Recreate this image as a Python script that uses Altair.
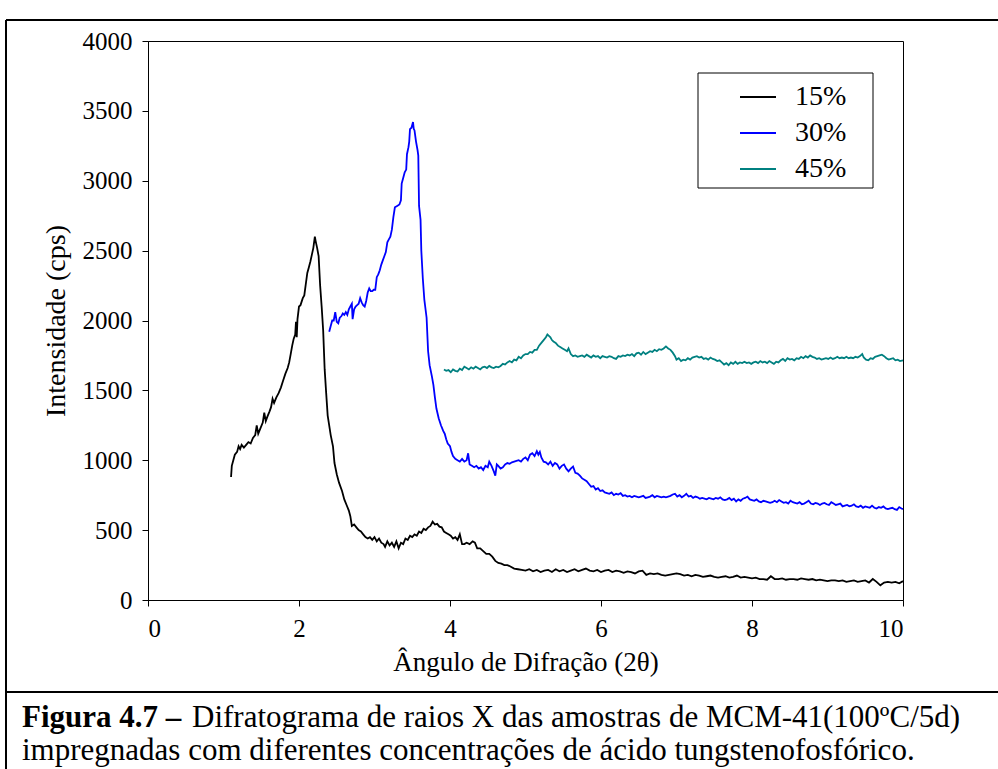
import altair as alt
import pandas as pd

# ---- data ----
series_names = ["15%", "30%", "45%"]
series_colors = ["#000000", "#0000ff", "#008080"]

x15 = [1.10, 1.11, 1.13, 1.15, 1.18, 1.20, 1.22, 1.24, 1.27, 1.30, 1.33, 1.36, 1.39, 1.42, 1.44, 1.46,
       1.49, 1.52, 1.54, 1.56, 1.58, 1.61, 1.63, 1.65, 1.67, 1.70, 1.73, 1.76, 1.79, 1.82, 1.85, 1.87,
       1.89, 1.91, 1.93, 1.95, 1.96, 1.97, 1.98, 2.00, 2.02, 2.05, 2.07, 2.09, 2.11, 2.13, 2.15, 2.17,
       2.19, 2.21, 2.22, 2.24, 2.26, 2.28, 2.30, 2.32, 2.34, 2.36, 2.38, 2.40, 2.42, 2.45, 2.47, 2.50,
       2.53, 2.57, 2.60, 2.63, 2.66, 2.68, 2.70, 2.73, 2.76, 2.79, 2.82, 2.85, 2.88, 2.91, 2.94, 2.97,
       3.00, 3.03, 3.06, 3.09, 3.12, 3.14, 3.17, 3.20, 3.23, 3.26, 3.29, 3.32, 3.35, 3.38, 3.41, 3.44,
       3.47, 3.50, 3.53, 3.56, 3.59, 3.62, 3.65, 3.68, 3.71, 3.74, 3.77, 3.80, 3.83, 3.86, 3.89, 3.92,
       3.95, 3.98, 4.01, 4.04, 4.07, 4.10, 4.13, 4.16, 4.19, 4.22, 4.26, 4.30, 4.33, 4.36, 4.40, 4.44,
       4.48, 4.52, 4.56, 4.60, 4.64, 4.68, 4.72, 4.76, 4.80, 4.85, 4.90, 4.95, 5.00, 5.05, 5.10, 5.15,
       5.20, 5.25, 5.30, 5.35, 5.40, 5.45, 5.50, 5.55, 5.60, 5.65, 5.70, 5.75, 5.80, 5.85, 5.90, 5.95,
       6.00, 6.05, 6.10, 6.15, 6.20, 6.25, 6.30, 6.35, 6.40, 6.45, 6.50, 6.55, 6.60, 6.65, 6.70, 6.75,
       6.80, 6.85, 6.90, 6.95, 7.00, 7.05, 7.10, 7.15, 7.20, 7.25, 7.30, 7.35, 7.40, 7.45, 7.50, 7.55,
       7.60, 7.65, 7.70, 7.75, 7.80, 7.85, 7.90, 7.95, 8.00, 8.05, 8.10, 8.15, 8.20, 8.25, 8.30, 8.35,
       8.40, 8.45, 8.50, 8.55, 8.60, 8.65, 8.70, 8.75, 8.80, 8.85, 8.90, 8.95, 9.00, 9.05, 9.10, 9.15,
       9.20, 9.25, 9.30, 9.35, 9.40, 9.45, 9.50, 9.55, 9.60, 9.65, 9.70, 9.75, 9.80, 9.85, 9.90, 9.95,
       10.00]
y15 = [880, 960, 1000, 1040, 1060, 1100, 1080, 1110, 1090, 1110, 1130, 1120, 1160, 1180, 1250, 1190,
       1230, 1270, 1340, 1280, 1310, 1350, 1380, 1440, 1410, 1450, 1480, 1520, 1570, 1620, 1660, 1700,
       1760, 1820, 1870, 1900, 1990, 1880, 2010, 2100, 2110, 2160, 2180, 2260, 2340, 2380, 2420, 2470,
       2520, 2600, 2570, 2520, 2460, 2250, 2100, 1930, 1650, 1480, 1320, 1250, 1180, 1100, 980, 900,
       840, 780, 720, 680, 640, 600, 530, 540, 520, 500, 490, 470, 450, 440, 450, 430,
       450, 420, 440, 410, 400, 380, 420, 390, 410, 380, 420, 370, 410, 400, 440, 430,
       460, 450, 470, 460, 490, 480, 510, 500, 520, 530, 560, 540, 545, 525, 520, 490,
       480, 470, 460, 440, 450, 430, 470, 400, 400, 410, 400, 420, 410, 370, 370, 350,
       330, 330, 310, 280, 265, 260, 250, 250, 240, 225, 220, 215, 210, 220, 205, 215,
       200, 210, 215, 200, 220, 205, 215, 200, 210, 220, 205, 215, 225, 210, 205, 215,
       200, 210, 215, 200, 210, 205, 195, 205, 200, 190, 205, 210, 180, 190, 185, 190,
       180, 175, 180, 185, 190, 185, 175, 180, 170, 180, 175, 165, 170, 175, 165, 160,
       165, 170, 160, 165, 175, 160, 165, 160, 155, 160, 150, 150, 145, 170, 150, 150,
       155, 145, 150, 150, 145, 155, 150, 145, 150, 140, 145, 140, 135, 140, 140, 135,
       140, 130, 135, 140, 130, 135, 140, 125, 150, 130, 105, 125, 130, 125, 130, 120,
       135]

x30 = [2.40, 2.42, 2.44, 2.46, 2.48, 2.50, 2.52, 2.54, 2.56, 2.58, 2.60, 2.62, 2.64, 2.66, 2.68, 2.70,
       2.71, 2.73, 2.75, 2.77, 2.79, 2.81, 2.83, 2.85, 2.87, 2.89, 2.91, 2.93, 2.95, 2.97, 2.99, 3.01,
       3.03, 3.05, 3.07, 3.09, 3.11, 3.13, 3.15, 3.17, 3.19, 3.21, 3.23, 3.25, 3.27, 3.30, 3.33, 3.35,
       3.36, 3.38, 3.40, 3.42, 3.43, 3.45, 3.46, 3.47, 3.49, 3.51, 3.52, 3.53, 3.55, 3.57, 3.58, 3.59,
       3.61, 3.62, 3.64, 3.66, 3.69, 3.71, 3.73, 3.76, 3.78, 3.80, 3.82, 3.85, 3.88, 3.91, 3.93, 3.95,
       3.97, 4.00, 4.02, 4.04, 4.07, 4.10, 4.13, 4.16, 4.19, 4.22, 4.24, 4.26, 4.29, 4.32, 4.35, 4.38,
       4.41, 4.44, 4.47, 4.50, 4.52, 4.55, 4.58, 4.60, 4.62, 4.64, 4.67, 4.70, 4.73, 4.76, 4.79, 4.82,
       4.85, 4.88, 4.91, 4.94, 4.97, 5.00, 5.03, 5.06, 5.09, 5.12, 5.15, 5.17, 5.19, 5.21, 5.24, 5.27,
       5.30, 5.33, 5.36, 5.39, 5.42, 5.45, 5.48, 5.51, 5.54, 5.57, 5.60, 5.63, 5.66, 5.69, 5.72, 5.75,
       5.78, 5.81, 5.84, 5.87, 5.90, 5.93, 5.96, 5.99, 6.02, 6.05, 6.08, 6.11, 6.14, 6.17, 6.20, 6.23,
       6.26, 6.29, 6.32, 6.35, 6.38, 6.41, 6.44, 6.47, 6.50, 6.53, 6.56, 6.59, 6.62, 6.65, 6.68, 6.71,
       6.74, 6.77, 6.80, 6.83, 6.86, 6.89, 6.92, 6.95, 6.98, 7.01, 7.04, 7.07, 7.10, 7.13, 7.16, 7.19,
       7.22, 7.25, 7.28, 7.31, 7.34, 7.37, 7.40, 7.43, 7.46, 7.49, 7.52, 7.55, 7.58, 7.61, 7.64, 7.67,
       7.70, 7.73, 7.76, 7.79, 7.82, 7.85, 7.88, 7.91, 7.94, 7.97, 8.00, 8.03, 8.06, 8.09, 8.12, 8.15,
       8.18, 8.21, 8.24, 8.27, 8.30, 8.33, 8.36, 8.39, 8.42, 8.45, 8.48, 8.51, 8.54, 8.57, 8.60, 8.63,
       8.66, 8.69, 8.72, 8.75, 8.78, 8.81, 8.84, 8.87, 8.90, 8.93, 8.96, 8.99, 9.02, 9.05, 9.08, 9.11,
       9.14, 9.17, 9.20, 9.23, 9.26, 9.29, 9.32, 9.35, 9.38, 9.41, 9.44, 9.47, 9.50, 9.53, 9.56, 9.59,
       9.62, 9.65, 9.68, 9.71, 9.74, 9.77, 9.80, 9.83, 9.86, 9.89, 9.92, 9.95, 9.98, 10.00]
y30 = [1920, 1960, 2000, 2000, 2060, 1990, 1980, 2020, 2030, 2050, 2040, 2060, 2040, 2080, 2100, 2120,
       2010, 2080, 2100, 2110, 2120, 2160, 2130, 2110, 2100, 2140, 2200, 2230, 2210, 2210, 2220, 2220,
       2310, 2330, 2360, 2400, 2430, 2460, 2490, 2560, 2580, 2600, 2650, 2740, 2810, 2820, 2830, 2860,
       2980, 3020, 3060, 3080, 3190, 3240, 3280, 3370, 3380, 3420, 3370, 3360, 3280, 3220, 3180, 2820,
       2720, 2500, 2300, 2150, 2020, 1780, 1680, 1600, 1540, 1450, 1370, 1300, 1250, 1210, 1190, 1150,
       1120, 1100, 1060, 1030, 1010, 1000, 990, 1010, 990, 1000, 1050, 970, 960, 950, 960, 940,
       950, 930, 960, 950, 990, 960, 920, 890, 970, 960, 940, 950, 970, 980, 975, 985,
       990, 995, 1000, 990, 1010, 1020, 1000, 1040, 1050, 1030, 1065, 1040, 1060, 1020, 990, 985,
       970, 990, 960, 980, 970, 940, 960, 970, 940, 920, 940, 955, 910, 905, 890, 870,
       860, 850, 830, 810, 815, 790, 800, 780, 785, 770, 765, 760, 770, 750, 760, 755,
       765, 745, 750, 740, 745, 735, 745, 740, 735, 740, 745, 730, 735, 740, 750, 735,
       745, 740, 735, 740, 735, 740, 745, 755, 760, 740, 750, 735, 745, 760, 740, 745,
       730, 740, 735, 725, 730, 725, 720, 730, 725, 720, 730, 725, 735, 720, 715, 720,
       730, 715, 725, 705, 720, 710, 725, 730, 740, 720, 715, 710, 720, 705, 700, 710,
       705, 700, 695, 700, 710, 700, 715, 705, 695, 700, 690, 710, 700, 695, 690, 700,
       685, 690, 700, 710, 690, 685, 695, 690, 680, 690, 695, 685, 680, 700, 690, 680,
       685, 690, 670, 675, 680, 670, 675, 685, 670, 665, 675, 660, 670, 665, 660, 675,
       660, 655, 665, 660, 670, 655, 650, 655, 660, 650, 645, 665, 655, 650]

x45 = [3.92, 3.95, 3.98, 4.01, 4.04, 4.07, 4.10, 4.13, 4.16, 4.19, 4.22, 4.25, 4.28, 4.31, 4.34, 4.37,
       4.40, 4.43, 4.46, 4.49, 4.52, 4.55, 4.58, 4.61, 4.64, 4.67, 4.70, 4.73, 4.76, 4.79, 4.82, 4.85,
       4.88, 4.91, 4.94, 4.97, 5.00, 5.03, 5.06, 5.09, 5.12, 5.15, 5.18, 5.21, 5.24, 5.27, 5.29, 5.31,
       5.33, 5.35, 5.37, 5.40, 5.43, 5.46, 5.49, 5.52, 5.55, 5.57, 5.60, 5.63, 5.66, 5.69, 5.72, 5.75,
       5.78, 5.81, 5.84, 5.87, 5.90, 5.93, 5.96, 5.99, 6.02, 6.05, 6.08, 6.11, 6.14, 6.17, 6.20, 6.23,
       6.26, 6.29, 6.32, 6.35, 6.38, 6.41, 6.44, 6.47, 6.50, 6.53, 6.56, 6.59, 6.62, 6.65, 6.68, 6.71,
       6.74, 6.77, 6.80, 6.83, 6.86, 6.89, 6.92, 6.95, 6.98, 7.00, 7.03, 7.06, 7.09, 7.12, 7.15, 7.18,
       7.21, 7.24, 7.27, 7.30, 7.33, 7.36, 7.39, 7.42, 7.45, 7.48, 7.51, 7.54, 7.57, 7.60, 7.63, 7.66,
       7.69, 7.72, 7.75, 7.78, 7.81, 7.84, 7.87, 7.90, 7.93, 7.96, 7.99, 8.02, 8.05, 8.08, 8.11, 8.14,
       8.17, 8.20, 8.23, 8.26, 8.29, 8.32, 8.35, 8.38, 8.41, 8.44, 8.47, 8.50, 8.53, 8.56, 8.59, 8.62,
       8.65, 8.68, 8.71, 8.74, 8.77, 8.80, 8.83, 8.86, 8.89, 8.92, 8.95, 8.98, 9.01, 9.04, 9.07, 9.10,
       9.13, 9.16, 9.19, 9.22, 9.25, 9.28, 9.31, 9.34, 9.37, 9.40, 9.43, 9.46, 9.48, 9.51, 9.54, 9.57,
       9.60, 9.63, 9.66, 9.69, 9.72, 9.75, 9.78, 9.81, 9.84, 9.87, 9.90, 9.93, 9.96, 10.00]
y45 = [1650, 1640, 1645, 1630, 1650, 1640, 1635, 1655, 1645, 1670, 1660, 1650, 1665, 1655, 1670, 1660,
       1650, 1665, 1670, 1660, 1675, 1665, 1660, 1670, 1665, 1675, 1690, 1685, 1700, 1710, 1700, 1720,
       1715, 1740, 1730, 1750, 1760, 1760, 1775, 1770, 1790, 1790, 1820, 1840, 1860, 1880, 1900, 1890,
       1880, 1860, 1850, 1840, 1820, 1810, 1800, 1790, 1780, 1800, 1760, 1745, 1750, 1740, 1745, 1750,
       1740, 1755, 1745, 1735, 1750, 1740, 1745, 1730, 1745, 1740, 1735, 1745, 1740, 1730, 1725, 1745,
       1740, 1750, 1745, 1755, 1750, 1760, 1745, 1765, 1770, 1755, 1775, 1760, 1770, 1780, 1775, 1790,
       1780, 1795, 1790, 1800, 1815, 1800, 1790, 1770, 1745, 1720, 1730, 1710, 1720, 1715, 1730, 1720,
       1735, 1740, 1745, 1735, 1740, 1725, 1730, 1720, 1735, 1725, 1720, 1710, 1715, 1700, 1685, 1695,
       1680, 1700, 1690, 1705, 1690, 1700, 1695, 1705, 1695, 1700, 1690, 1700, 1705, 1695, 1710, 1700,
       1705, 1695, 1710, 1700, 1690, 1705, 1700, 1715, 1725, 1710, 1730, 1720, 1725, 1715, 1730, 1725,
       1740, 1730, 1745, 1735, 1750, 1740, 1735, 1725, 1730, 1720, 1725, 1730, 1725, 1735, 1725, 1730,
       1740, 1730, 1735, 1730, 1740, 1730, 1735, 1730, 1740, 1735, 1745, 1760, 1735, 1720, 1715, 1730,
       1725, 1740, 1745, 1750, 1755, 1745, 1730, 1720, 1725, 1730, 1715, 1720, 1710, 1715]

x_ticks = [0, 2, 4, 6, 8, 10]
y_ticks = [0, 500, 1000, 1500, 2000, 2500, 3000, 3500, 4000]

x_title = "Ângulo de Difração (2θ)"
y_title = "Intensidade (cps)"
caption_bold = "Figura 4.7 –"
caption_line1 = "Difratograma de raios X das amostras de MCM-41(100ºC/5d)"
caption_line2 = "impregnadas com diferentes concentrações de ácido tungstenofosfórico."

# ---- build table ----
frames = []
for name, xs, ys in zip(series_names, [x15, x30, x45], [y15, y30, y45]):
    frames.append(pd.DataFrame({"angle": xs, "intensity": ys, "sample": name,
                                "idx": range(len(xs))}))
df = pd.concat(frames, ignore_index=True)

FONT = "Liberation Serif"
W, H = 755, 559

one = pd.DataFrame({"k": [0]})

# legend frame (drawn under the legend entries)
legend_box = alt.Chart(one).mark_rect(fill="white", stroke="black", strokeWidth=1).encode(
    x=alt.value(550), x2=alt.value(725), y=alt.value(32), y2=alt.value(147))

lines = alt.Chart(df).mark_line(strokeWidth=1.8, clip=False).encode(
    x=alt.X("angle:Q",
            scale=alt.Scale(domain=[0, 10], nice=False, zero=False),
            axis=alt.Axis(values=x_ticks, title=x_title, format="d",
                          titleY=62, titleBaseline="middle", titleFontSize=27)),
    y=alt.Y("intensity:Q",
            scale=alt.Scale(domain=[0, 4000], nice=False),
            axis=alt.Axis(values=y_ticks, title=y_title, format="d",
                          titleX=-92, titleY=H / 2, titleBaseline="middle",
                          titleAlign="center", titleAngle=-90, titleFontSize=28)),
    color=alt.Color("sample:N",
                    scale=alt.Scale(domain=series_names, range=series_colors),
                    legend=alt.Legend(title=None, orient="none", legendX=550, legendY=32)),
    order="idx:Q",
    detail="sample:N",
)

# decorative frame of the figure
frame_left = alt.Chart(one).mark_rule(color="black", strokeWidth=2).encode(
    x=alt.value(-142), y=alt.value(-21), y2=alt.value(728))
frame_top = alt.Chart(one).mark_rule(color="black", strokeWidth=2).encode(
    x=alt.value(-142), x2=alt.value(850), y=alt.value(-21))
frame_sep = alt.Chart(one).mark_rule(color="black", strokeWidth=2).encode(
    x=alt.value(-142), x2=alt.value(850), y=alt.value(651))

CAP = 31
cap_b = alt.Chart(one).mark_text(font=FONT, fontSize=CAP, fontWeight="bold", align="left",
                                 baseline="alphabetic", color="black").encode(
    x=alt.value(-126), y=alt.value(686), text=alt.value(caption_bold))
cap_1 = alt.Chart(one).mark_text(font=FONT, fontSize=CAP, align="left",
                                 baseline="alphabetic", color="black").encode(
    x=alt.value(44), y=alt.value(686), text=alt.value(caption_line1))
cap_2 = alt.Chart(one).mark_text(font=FONT, fontSize=CAP, align="left",
                                 baseline="alphabetic", color="black").encode(
    x=alt.value(-126), y=alt.value(719), text=alt.value(caption_line2))

chart = alt.layer(legend_box, lines, frame_left, frame_top, frame_sep, cap_b, cap_1, cap_2).properties(
    width=W, height=H,
    autosize=alt.AutoSizeParams(type="none"),
    padding={"left": 148, "top": 41, "right": 95, "bottom": 169},
    background="white",
).configure_view(
    stroke="black", strokeWidth=1
).configure_axis(
    grid=False, domainColor="black", domainWidth=1, tickColor="black", tickSize=6,
    labelFont=FONT, labelFontSize=25, labelColor="black", labelPadding=6,
    titleFont=FONT, titleFontSize=26, titleFontWeight="normal", titleColor="black",
).configure_axisX(labelPadding=10).configure_axisY(labelPadding=10).configure_legend(
    padding=5, cornerRadius=0,
    symbolType="stroke", symbolSize=1296, symbolStrokeWidth=2, symbolOffset=36,
    labelFont=FONT, labelFontSize=28, labelColor="black", labelOffset=18, rowPadding=3,
)

chart.save("out.html", embed_options={"renderer": "svg", "actions": False})
